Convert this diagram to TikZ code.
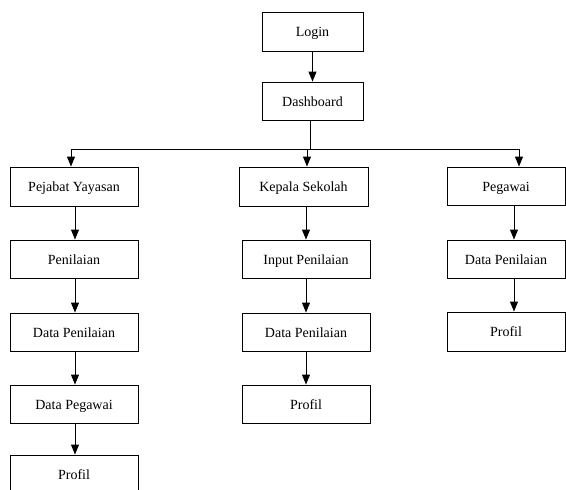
\documentclass[tikz,border=0pt]{standalone}
\usepackage{fontspec}
\setmainfont{Liberation Serif}
\usetikzlibrary{arrows.meta}
\begin{document}
\begin{tikzpicture}[x=1pt,y=-1pt,
  box/.style={draw=black,line width=0.9pt,rectangle,inner sep=0pt,text height=13pt,text depth=3pt,font=\fontsize{14}{16}\selectfont,fill=white},
  conn/.style={draw=black,line width=0.9pt},
  arr/.style={conn,-{Triangle[length=10pt,width=8pt]}}]
\useasboundingbox (0,0) rectangle (566,490);
% top
\node[box,minimum width=101pt,minimum height=39pt] (login) at (312.5,31.5) {Login};
\node[box,minimum width=101pt,minimum height=38pt] (dash) at (312.5,101) {Dashboard};
% left column
\node[box,minimum width=128pt,minimum height=39pt] (py) at (74,186.5) {Pejabat Yayasan};
\node[box,minimum width=128pt,minimum height=38pt] (pen) at (74,259) {Penilaian};
\node[box,minimum width=128pt,minimum height=38pt] (dpl) at (74,332) {Data Penilaian};
\node[box,minimum width=128pt,minimum height=38pt] (dpg) at (74,404) {Data Pegawai};
\node[box,minimum width=128pt,minimum height=39pt] (prl) at (74,474.5) {Profil};
% middle column
\node[box,minimum width=129pt,minimum height=39pt] (ks) at (303.5,186.5) {Kepala Sekolah};
\node[box,minimum width=128pt,minimum height=38pt] (ip) at (306,259) {Input Penilaian};
\node[box,minimum width=128pt,minimum height=38pt] (dpm) at (306,332) {Data Penilaian};
\node[box,minimum width=128pt,minimum height=38pt] (prm) at (306,404) {Profil};
% right column
\node[box,minimum width=118pt,minimum height=38pt] (pg) at (506,186) {Pegawai};
\node[box,minimum width=118pt,minimum height=38pt] (dpr) at (506,259) {Data Penilaian};
\node[box,minimum width=118pt,minimum height=39pt] (prr) at (506,331.5) {Profil};
% junction coordinates
\coordinate (j) at (310,149);
\coordinate (jl) at (71,149);
\coordinate (jr) at (519,149);
\coordinate (jm) at (307,149);
\coordinate (xl) at (75,0);
\coordinate (xm) at (306,0);
\coordinate (xr) at (514,0);
% connectors
\draw[arr] (login) -- (dash);
\draw[conn] (dash.south -| j) -- (j);
\draw[conn] (jl) -- (jr);
\draw[arr] (jl) -- (py.north -| jl);
\draw[arr] (jm) -- (ks.north -| jm);
\draw[arr] (jr) -- (pg.north -| jr);
\draw[arr] (py.south -| xl) -- (pen.north -| xl);
\draw[arr] (pen.south -| xl) -- (dpl.north -| xl);
\draw[arr] (dpl.south -| xl) -- (dpg.north -| xl);
\draw[arr] (dpg.south -| xl) -- (prl.north -| xl);
\draw[arr] (ks.south -| xm) -- (ip.north -| xm);
\draw[arr] (ip.south -| xm) -- (dpm.north -| xm);
\draw[arr] (dpm.south -| xm) -- (prm.north -| xm);
\draw[arr] (pg.south -| xr) -- (dpr.north -| xr);
\draw[arr] (dpr.south -| xr) -- (prr.north -| xr);
\end{tikzpicture}
\end{document}
